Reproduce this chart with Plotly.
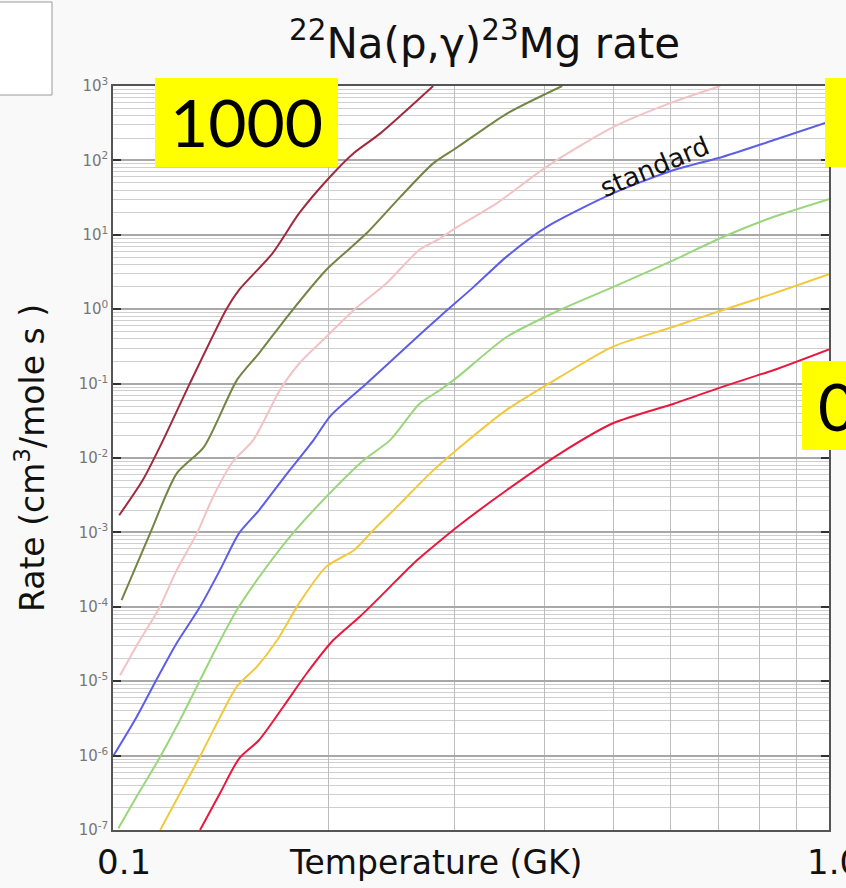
import plotly.graph_objects as go

# Temperature (GK) and log10(rate) values, one list pair per curve
t_darkred = [0.102, 0.110, 0.1175, 0.128, 0.144, 0.150, 0.167, 0.182, 0.201, 0.217, 0.236, 0.280]
r_darkred = [-2.77, -2.30, -1.76, -1.00, 0.00, 0.26, 0.75, 1.29, 1.78, 2.10, 2.36, 3.00]

t_olive = [0.1028, 0.1127, 0.1227, 0.134, 0.149, 0.160, 0.1766, 0.1986, 0.226, 0.252, 0.280, 0.303, 0.355, 0.424]
r_olive = [-3.91, -3.01, -2.21, -1.85, -0.95, -0.59, -0.055, 0.53, 1.02, 1.51, 1.96, 2.18, 2.63, 3.00]

t_pink = [0.1023, 0.109, 0.1157, 0.1227, 0.131, 0.138, 0.147, 0.157, 0.171, 0.182, 0.1986, 0.217, 0.241, 0.268, 0.286, 0.303, 0.343, 0.404, 0.500, 0.600, 0.705]
r_pink = [-4.92, -4.45, -4.04, -3.51, -3.01, -2.52, -2.05, -1.76, -1.09, -0.73, -0.37, -0.01, 0.35, 0.80, 0.95, 1.11, 1.42, 1.92, 2.45, 2.77, 3.00]

t_standard = [0.1, 0.1079, 0.115, 0.1227, 0.1323, 0.141, 0.150, 0.160, 0.175, 0.1906, 0.201, 0.226, 0.260, 0.286, 0.319, 0.355, 0.404, 0.500, 0.607, 0.711, 0.836, 1.0]
r_standard = [-6.01, -5.48, -4.98, -4.49, -4.00, -3.51, -3.01, -2.70, -2.21, -1.76, -1.44, -1.00, -0.46, -0.10, 0.30, 0.71, 1.11, 1.56, 1.87, 2.05, 2.27, 2.52]

t_lgreen = [0.1017, 0.1079, 0.1157, 0.1227, 0.131, 0.1396, 0.149, 0.160, 0.1766, 0.1986, 0.2239, 0.2438, 0.268, 0.286, 0.303, 0.355, 0.421, 0.500, 0.607, 0.711, 0.836, 1.0]
r_lgreen = [-6.98, -6.55, -6.06, -5.61, -5.07, -4.54, -4.04, -3.60, -3.06, -2.52, -2.03, -1.76, -1.27, -1.09, -0.91, -0.37, -0.01, 0.30, 0.66, 0.97, 1.24, 1.48]

t_gold = [0.1164, 0.124, 0.1323, 0.1396, 0.149, 0.159, 0.1695, 0.182, 0.1986, 0.217, 0.231, 0.252, 0.277, 0.303, 0.355, 0.421, 0.500, 0.607, 0.711, 0.836, 1.0]
r_gold = [-7.00, -6.51, -6.01, -5.57, -5.07, -4.80, -4.45, -3.95, -3.46, -3.24, -2.97, -2.61, -2.21, -1.88, -1.35, -0.91, -0.50, -0.235, -0.01, 0.21, 0.47]

t_red = [0.1323, 0.141, 0.150, 0.160, 0.173, 0.1866, 0.203, 0.2213, 0.2387, 0.2626, 0.280, 0.303, 0.355, 0.421, 0.500, 0.607, 0.711, 0.836, 1.0]
r_red = [-7.00, -6.51, -6.04, -5.79, -5.34, -4.89, -4.45, -4.13, -3.82, -3.42, -3.19, -2.92, -2.43, -1.94, -1.53, -1.27, -1.04, -0.82, -0.54]

series = [
    (t_darkred, r_darkred, "#a02a3e"),
    (t_olive, r_olive, "#728543"),
    (t_pink, r_pink, "#f3c2c4"),
    (t_standard, r_standard, "#5d5de6"),
    (t_lgreen, r_lgreen, "#9ad67c"),
    (t_gold, r_gold, "#f2c83c"),
    (t_red, r_red, "#e8183e"),
]

y_exponents = [3, 2, 1, 0, -1, -2, -3, -4, -5, -6, -7]
x_grid = [0.1, 0.2, 0.3, 0.4, 0.5, 0.6, 0.7, 0.8, 0.9, 1.0]
x_labels = ["0.1", "1.0"]

FONT = "DejaVu Sans"

fig = go.Figure()
for t, r, c in series:
    fig.add_trace(go.Scatter(x=t, y=[10 ** v for v in r], mode="lines",
                             line=dict(color=c, width=2, shape="spline", smoothing=0.7),
                             showlegend=False, hoverinfo="skip", cliponaxis=True))

minor_vals = [m * 10 ** e for e in range(-7, 3) for m in range(2, 10)]

fig.update_layout(
    width=846, height=888,
    margin=dict(l=113, r=17, t=86, b=58),
    paper_bgcolor="#f9f9f9", plot_bgcolor="#ffffff",
    font=dict(family=FONT, color="#111"),
    xaxis=dict(type="log", range=[-1, 0], tickvals=x_grid, showticklabels=False,
               showgrid=True, gridcolor="#bdbdbd", gridwidth=1,
               showline=True, linecolor="#555", linewidth=1.5, mirror=True,
               ticks="", zeroline=False),
    yaxis=dict(type="log", range=[-7, 3],
               tickvals=[10 ** e for e in y_exponents],
               ticktext=["10<sup>%d</sup>" % e for e in y_exponents],
               showgrid=True, gridcolor="#a8a8a8", gridwidth=1.5,
               showline=True, linecolor="#555", linewidth=1.5, mirror="ticks",
               ticks="inside", ticklen=8, tickcolor="#333", tickwidth=1.5,
               tickfont=dict(size=15, color="#777", family="DejaVu Sans"),
               minor=dict(tickvals=minor_vals, showgrid=True, gridcolor="#cfcfcf",
                          gridwidth=1, ticks=""),
               zeroline=False),
)

def px(x):
    return (x - 113) / 716.0

def py(y):
    return (830 - y) / 744.0

shapes = [
    dict(type="rect", xref="paper", yref="paper", x0=px(-2), x1=px(52), y0=py(95), y1=py(2),
         fillcolor="#ffffff", line=dict(color="#9a9a9a", width=1)),
    dict(type="rect", xref="paper", yref="paper", x0=px(155), x1=px(338), y0=py(167), y1=py(78),
         fillcolor="#ffff00", line=dict(width=0)),
    dict(type="rect", xref="paper", yref="paper", x0=px(825), x1=px(900), y0=py(167), y1=py(78),
         fillcolor="#ffff00", line=dict(width=0)),
    dict(type="rect", xref="paper", yref="paper", x0=px(802), x1=px(900), y0=py(450), y1=py(361),
         fillcolor="#ffff00", line=dict(width=0)),
]
fig.update_layout(shapes=shapes)

annotations = [
    dict(text="<sup>22</sup>Na(p,γ)<sup>23</sup>Mg rate", x=px(484), y=py(40), xref="paper", yref="paper",
         showarrow=False, font=dict(size=42, family=FONT, color="#111"), xanchor="center", yanchor="middle"),
    dict(text="Temperature (GK)", x=px(436), y=py(862), xref="paper", yref="paper",
         showarrow=False, font=dict(size=33, family=FONT, color="#111"), xanchor="center", yanchor="middle"),
    dict(text="Rate (cm<sup>3</sup>/mole s )", x=px(30), y=py(458), xref="paper", yref="paper",
         showarrow=False, textangle=-90, font=dict(size=33, family=FONT, color="#111"),
         xanchor="center", yanchor="middle"),
    dict(text=x_labels[0], x=px(124), y=py(862), xref="paper", yref="paper",
         showarrow=False, font=dict(size=34, family=FONT, color="#111"), xanchor="center", yanchor="middle"),
    dict(text=x_labels[1], x=px(805), y=py(862), xref="paper", yref="paper",
         showarrow=False, font=dict(size=34, family=FONT, color="#111"), xanchor="left", yanchor="middle"),
    dict(text="1000", x=px(246), y=py(122), xref="paper", yref="paper",
         showarrow=False, font=dict(size=66, family="Lato", color="#000"), xanchor="center", yanchor="middle"),
    dict(text="0.001", x=px(816), y=py(406), xref="paper", yref="paper",
         showarrow=False, font=dict(size=66, family="Lato", color="#000"), xanchor="left", yanchor="middle"),
    dict(text="standard", x=px(654), y=py(167), xref="paper", yref="paper",
         showarrow=False, textangle=-23, font=dict(size=26, family=FONT, color="#111"),
         xanchor="center", yanchor="middle"),
]
fig.update_layout(annotations=annotations)

fig.write_html("out.html", config={"displayModeBar": False},
               post_script="document.body.style.margin='0';document.body.style.overflow='hidden';")
